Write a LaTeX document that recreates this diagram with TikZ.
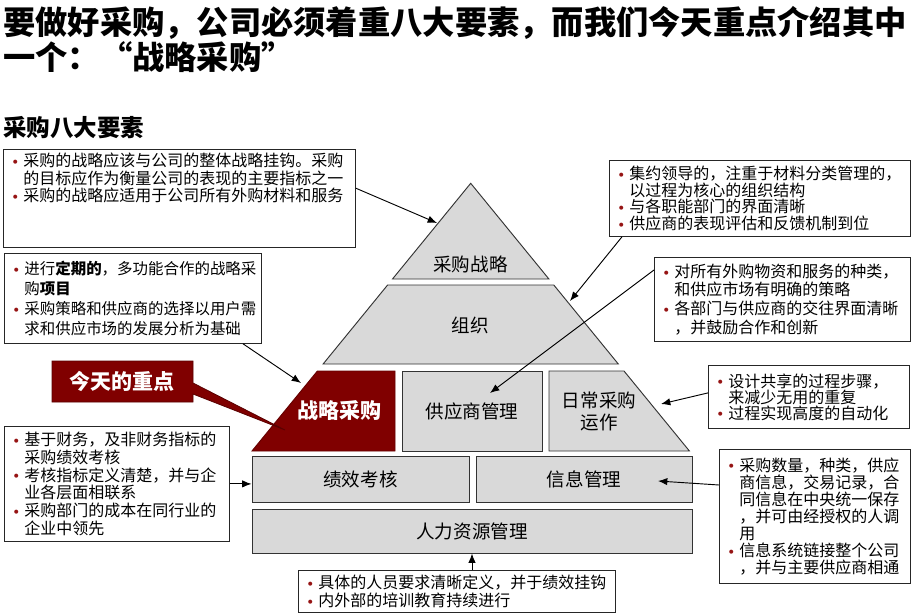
\documentclass[tikz,border=0pt]{standalone}
\usepackage{fontspec}
\setmainfont{Noto Sans CJK SC}
\usepackage{tikz}
\usetikzlibrary{arrows.meta,positioning,calc}

\definecolor{maroon}{RGB}{128,0,0}
\definecolor{blockgray}{RGB}{217,217,217}
\definecolor{bulred}{RGB}{150,20,20}
\newcommand\itm{\makebox[12pt][c]{\raisebox{1.6pt}{\textcolor{bulred}{\scriptsize$\bullet$}}}}
\newcommand\nxt{\hspace*{12pt}}
\newcommand\notefont[2][12]{\fontsize{#1}{#2}\selectfont}

\begin{document}
\begin{tikzpicture}[x=0.75pt, y=-0.75pt,
  note/.style={draw=black!85, line width=0.6pt, fill=white, anchor=north west,
    align=left, inner xsep=3pt, inner ysep=0pt},
  block/.style={draw=black!80, line width=0.7pt, fill=blockgray},
  lbl/.style={font=\fontsize{13.9}{16.5}\selectfont, align=center},
  ptr/.style={draw=black, line width=0.7pt, -{Latex[length=7pt,width=5.5pt]}}]
\fill[white] (0,0) rectangle (912,616);
\useasboundingbox (0,0) rectangle (912,616);

% Title
\node[anchor=north west, inner sep=0pt, align=left,
  font=\bfseries\fontsize{24.2}{26.25}\selectfont] (title) at (3,6)
  {要做好采购，公司必须着重八大要素，而我们今天重点介绍其中\\一个：“战略采购”};
\node[anchor=west, inner sep=0pt, font=\bfseries\fontsize{17.6}{20}\selectfont]
  (sub) at (3,128) {采购八大要素};

% Pyramid
\filldraw[block] (470.7,183.3) -- (548.9,279) -- (392.5,279) -- cycle;
\node[lbl] (strategy) at (470.5,264) {采购战略};
\filldraw[block] (387.6,285) -- (553.8,285) -- (618.3,364) -- (323.1,364) -- cycle;
\node[lbl] (org) at (470,325) {组织};
\filldraw[draw=red!40!black, fill=maroon, line width=0.7pt]
  (317.4,371) -- (395,371) -- (395,451) -- (252,451) -- cycle;
\node[lbl, text=white, font=\bfseries\fontsize{15.75}{18}\selectfont] (strat) at (339,411) {战略采购};
\node[block, lbl, minimum width=105pt, minimum height=60pt, inner sep=0pt] (supp) at (472,411) {供应商管理};
\filldraw[block] (549,371) -- (624,371) -- (689.4,451) -- (549,451) -- cycle;
\node[lbl] (daily) at (599,411) {日常采购\\运作};
\node[block, lbl, minimum width=162.75pt, minimum height=34.5pt, inner sep=0pt] (perf) at (360.5,479) {绩效考核};
\node[block, lbl, minimum width=162pt, minimum height=34.5pt, inner sep=0pt] (info) at (584,479) {信息管理};
\node[block, lbl, minimum width=330pt, minimum height=33pt, inner sep=0pt] (hr) at (472,531) {人力资源管理};

% Callout
\filldraw[fill=maroon, draw=red!35!black, line width=0.6pt]
  (52,361) -- (193,361) -- (193,383) -- (285,430) -- (193,394) -- (193,402) -- (52,402) -- cycle;
\node[text=white, font=\bfseries\fontsize{15.75}{18}\selectfont] (focus) at (122,381) {今天的重点};

% Notes
\node[note, text width=258pt, text depth=57pt, inner ysep=3pt, font={\notefont{13.1}}] (boxA) at (3,149)
  {\itm 采购的战略应该与公司的整体战略挂钩。采购\\
   \nxt 的目标应作为衡量公司的表现的主要指标之一\\
   \itm 采购的战略应适用于公司所有外购材料和服务};
\node[note, text width=219.75pt, minimum height=57pt, font={\notefont{12.5}}] (boxB) at (609,160)
  {\itm 集约领导的，注重于材料分类管理的，\\
   \nxt 以过程为核心的组织结构\\
   \itm 与各职能部门的界面清晰\\
   \itm 供应商的表现评估和反馈机制到位};
\node[note, text width=186.75pt, minimum height=67.5pt, font={\notefont[11.6]{15}}] (boxC) at (4,253)
  {\itm 进行\textbf{定期的}，多功能合作的战略采\\
   \nxt 购\textbf{项目}\\
   \itm 采购策略和供应商的选择以用户需\\
   \nxt 求和供应市场的发展分析为基础};
\node[note, text width=186pt, minimum height=63pt, font={\notefont{14}}] (boxD) at (654,257)
  {\itm 对所有外购物资和服务的种类，\\
   \nxt 和供应市场有明确的策略\\
   \itm 各部门与供应商的交往界面清晰\\
   \nxt ，并鼓励合作和创新};
\node[note, text width=144.75pt, minimum height=47.25pt, font={\notefont{12}}] (boxE) at (708,365)
  {\itm 设计共享的过程步骤，\\
   \nxt 来减少无用的重复\\
   \itm 过程实现高度的自动化};
\node[note, text width=162.75pt, minimum height=86.25pt, font={\notefont{13.35}}] (boxF) at (4,426)
  {\itm 基于财务，及非财务指标的\\
   \nxt 采购绩效考核\\
   \itm 考核指标定义清楚，并与企\\
   \nxt 业各层面相联系\\
   \itm 采购部门的成本在同行业的\\
   \nxt 企业中领先};
\node[note, text width=137.25pt, minimum height=100.5pt, font={\notefont{12.8}}] (boxG) at (719,449)
  {\itm 采购数量，种类，供应\\
   \nxt 商信息，交易记录，合\\
   \nxt 同信息在中央统一保存\\
   \nxt ，并可由经授权的人调\\
   \nxt 用\\
   \itm 信息系统链接整个公司\\
   \nxt ，并与主要供应商相通};
\node[note, text width=231.75pt, minimum height=31.5pt, font={\notefont{13.5}}] (boxH) at (298,570)
  {\itm 具体的人员要求清晰定义，并于绩效挂钩\\
   \itm 内外部的培训教育持续进行};

% Pointers
\coordinate (tipStrategy) at (437,223);
\coordinate (tipOrg) at (570,301);
\coordinate (tipSupp) at (490,393);
\coordinate (tipStrat) at (301,383);
\coordinate (tipDaily) at (661,404);
\coordinate (tipInfo) at (658,481);
\draw[ptr] ([yshift=7.5pt]boxA.east) -- (tipStrategy);
\draw[ptr] ($(boxB.south west)+(13,0)$) -- (tipOrg);
\draw[ptr] ($(boxD.north west)+(0,13)$) -- (tipSupp);
\draw[ptr] ($(boxC.south west)+(239,0)$) -- (tipStrat);
\draw[ptr] ($(boxE.west)+(0,-4)$) -- (tipDaily);
\draw[ptr] (boxF.east) -- (boxF.east -| perf.west);
\draw[ptr] ($(boxG.north west)+(0,36)$) -- (tipInfo);
\draw[ptr] (hr.south |- boxH.north) -- (hr.south);
\end{tikzpicture}
\end{document}
